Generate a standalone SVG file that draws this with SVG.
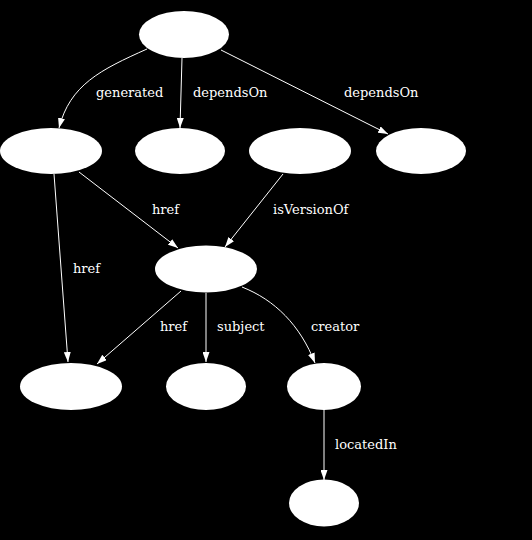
<svg xmlns="http://www.w3.org/2000/svg" width="532" height="540" viewBox="0 0 532 540">
<style>
.n{fill:#fff;stroke:none}
.e{fill:none;stroke:#fff;stroke-width:1;marker-end:url(#ah)}
.l{fill:#fff;font-family:"DejaVu Serif","Liberation Serif",serif;font-size:13px}
</style>
<defs>
<marker id="ah" markerUnits="userSpaceOnUse" markerWidth="10" markerHeight="7" refX="10" refY="3.5" orient="auto">
<path d="M0,0 L10,3.5 L0,7 z" fill="#fff"/>
</marker>
</defs>
<rect x="0" y="0" width="532" height="540" fill="#000"/>
<g id="connectors">
<path class="e" d="M147,49 C100,70 70,85 59,128"/>
<path class="e" d="M182,58 L180,128"/>
<path class="e" d="M221,50 L388,134"/>
<path class="e" d="M54,174 L68,362"/>
<path class="e" d="M79,172 L178,248"/>
<path class="e" d="M283,174 L225,247"/>
<path class="e" d="M181,291 L97,364"/>
<path class="e" d="M206,293 L206,362"/>
<path class="e" d="M242,287 C275,300 300,325 315,363"/>
<path class="e" d="M324,410 L324,480"/>
<text class="l" x="96" y="97">generated</text>
<text class="l" x="193" y="97">dependsOn</text>
<text class="l" x="344" y="97">dependsOn</text>
<text class="l" x="73" y="273">href</text>
<text class="l" x="152" y="214">href</text>
<text class="l" x="273" y="214">isVersionOf</text>
<text class="l" x="160" y="331">href</text>
<text class="l" x="217" y="331">subject</text>
<text class="l" x="311" y="331">creator</text>
<text class="l" x="335" y="449">locatedIn</text>
</g>
<g id="n_top"><ellipse class="n" cx="184" cy="34.5" rx="45" ry="23.5"/></g>
<g id="n_a"><ellipse class="n" cx="51" cy="151" rx="51" ry="23"/></g>
<g id="n_b"><ellipse class="n" cx="180" cy="151" rx="45" ry="23"/></g>
<g id="n_c"><ellipse class="n" cx="300" cy="151" rx="51" ry="23"/></g>
<g id="n_d"><ellipse class="n" cx="421" cy="151" rx="45" ry="23"/></g>
<g id="n_mid"><ellipse class="n" cx="206" cy="269" rx="51" ry="23.5"/></g>
<g id="n_e"><ellipse class="n" cx="71" cy="386.5" rx="51" ry="23.5"/></g>
<g id="n_f"><ellipse class="n" cx="206" cy="386.5" rx="40" ry="23.5"/></g>
<g id="n_g"><ellipse class="n" cx="324" cy="386.5" rx="37" ry="23.5"/></g>
<g id="n_h"><ellipse class="n" cx="324" cy="503" rx="35" ry="23.5"/></g>
</svg>
